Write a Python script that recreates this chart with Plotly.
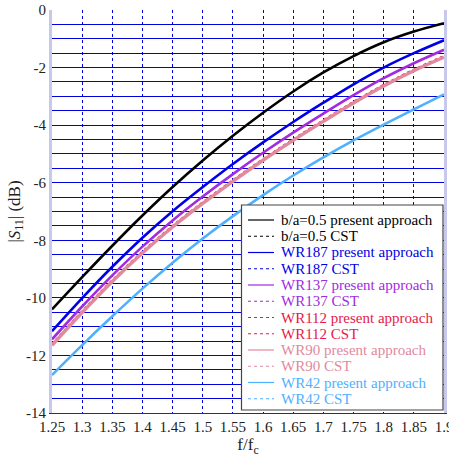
import plotly.graph_objects as go

# ---- data ----
f_ratio = [1.25, 1.30, 1.35, 1.40, 1.45, 1.50, 1.55, 1.60, 1.65, 1.70, 1.75, 1.80, 1.85, 1.90]

ba05_present  = [-10.40, -9.28, -8.19, -7.14, -6.15, -5.23, -4.37, -3.57, -2.83, -2.17, -1.60, -1.12, -0.75, -0.46]
ba05_cst      = [-10.40, -9.28, -8.19, -7.14, -6.15, -5.23, -4.37, -3.57, -2.83, -2.17, -1.60, -1.12, -0.75, -0.46]
wr187_present = [-11.16, -10.01, -8.92, -7.91, -6.99, -6.15, -5.35, -4.60, -3.89, -3.22, -2.58, -2.00, -1.50, -1.05]
wr187_cst     = [-11.16, -10.01, -8.92, -7.91, -6.99, -6.15, -5.35, -4.60, -3.89, -3.22, -2.58, -2.00, -1.50, -1.05]
wr137_present = [-11.44, -10.30, -9.22, -8.22, -7.31, -6.48, -5.70, -4.96, -4.26, -3.60, -2.96, -2.37, -1.85, -1.38]
wr137_cst     = [-11.44, -10.30, -9.22, -8.22, -7.31, -6.48, -5.70, -4.96, -4.26, -3.60, -2.96, -2.37, -1.85, -1.38]
wr112_present = [-11.62, -10.48, -9.40, -8.41, -7.51, -6.69, -5.92, -5.19, -4.50, -3.84, -3.20, -2.61, -2.08, -1.61]
wr112_cst     = [-11.62, -10.48, -9.40, -8.41, -7.51, -6.69, -5.92, -5.19, -4.50, -3.84, -3.20, -2.61, -2.08, -1.61]
wr90_present  = [-11.65, -10.51, -9.43, -8.44, -7.54, -6.72, -5.95, -5.22, -4.53, -3.87, -3.23, -2.64, -2.11, -1.64]
wr90_cst      = [-11.65, -10.51, -9.43, -8.44, -7.54, -6.72, -5.95, -5.22, -4.53, -3.87, -3.23, -2.64, -2.11, -1.64]
wr42_present  = [-12.68, -11.64, -10.64, -9.68, -8.78, -7.94, -7.16, -6.43, -5.75, -5.12, -4.53, -3.98, -3.45, -2.93]
wr42_cst      = [-12.68, -11.64, -10.64, -9.68, -8.78, -7.94, -7.16, -6.43, -5.75, -5.12, -4.53, -3.98, -3.45, -2.93]

x_ticks = [1.25, 1.30, 1.35, 1.40, 1.45, 1.50, 1.55, 1.60, 1.65, 1.70, 1.75, 1.80, 1.85, 1.90]
x_ticktext = ["1.25", "1.3", "1.35", "1.4", "1.45", "1.5", "1.55", "1.6", "1.65", "1.7", "1.75", "1.8", "1.85", "1.9"]
y_ticks = [-14, -12, -10, -8, -6, -4, -2, 0]
y_ticktext = ["-14", "-12", "-10", "-8", "-6", "-4", "-2", "0"]
y_grid = [-14.0, -13.5, -13.0, -12.5, -12.0, -11.5, -11.0, -10.5, -10.0, -9.5, -9.0, -8.5, -8.0, -7.5,
          -7.0, -6.5, -6.0, -5.5, -5.0, -4.5, -4.0, -3.5, -3.0, -2.5, -2.0, -1.5, -1.0, -0.5, 0.0]

labels = ["b/a=0.5 present approach", "b/a=0.5 CST",
          "WR187 present approach", "WR187 CST",
          "WR137 present approach", "WR137 CST",
          "WR112 present approach", "WR112 CST",
          "WR90 present approach", "WR90 CST",
          "WR42 present approach", "WR42 CST"]

# ---- styles ----
C_BLACK = "#000000"
C_187 = "#0000E6"
C_137 = "#A02BE0"
C_112 = "#E6194B"
C_90 = "#E08A9E"
C_42 = "#4FB0FF"

series = [
    (ba05_present, C_BLACK, 2.6, "solid"),
    (ba05_cst, C_BLACK, 1.0, "dot"),
    (wr187_present, C_187, 2.6, "solid"),
    (wr187_cst, C_187, 1.0, "dot"),
    (wr137_present, C_137, 2.6, "solid"),
    (wr137_cst, C_137, 1.0, "dot"),
    (wr112_present, C_112, 2.6, "dot"),
    (wr112_cst, C_112, 1.0, "dot"),
    (wr90_present, C_90, 3.4, "solid"),
    (wr90_cst, C_90, 1.0, "dot"),
    (wr42_present, C_42, 2.6, "solid"),
    (wr42_cst, C_42, 1.0, "dot"),
]

FONT = "Times New Roman, Liberation Serif, DejaVu Serif, serif"
GRID = "#0000D8"

fig = go.Figure()
for (vals, col, w, dash), name in zip(series, labels):
    fig.add_trace(go.Scatter(x=f_ratio, y=vals, mode="lines", name=name,
                             line=dict(color=col, width=w, dash=dash, shape="spline", smoothing=1.0),
                             showlegend=False))

# ---- custom legend (box, samples, texts) ----
W, H = 449, 459
ml, mr, mt, mb = 52, 5, 10, 46
pw, ph = W - ml - mr, H - mt - mb

def px2x(px):
    return (px - ml) / pw

def py2y(py):
    return (H - mb - py) / ph

shapes = [dict(type="rect", xref="paper", yref="paper",
               x0=px2x(241.5), x1=px2x(443), y0=py2y(410), y1=py2y(205),
               line=dict(color="#444444", width=1.2), fillcolor="white", layer="above")]
annotations = []
for i, ((vals, col, w, dash), name) in enumerate(zip(series, labels)):
    py = 220 + 16.25 * i
    shapes.append(dict(type="line", xref="paper", yref="paper",
                       x0=px2x(248), x1=px2x(274), y0=py2y(py), y1=py2y(py),
                       line=dict(color=col, width=1.2, dash=dash), layer="above"))
    annotations.append(dict(xref="paper", yref="paper", x=px2x(279), y=py2y(py),
                            text=name, showarrow=False, xanchor="left", yanchor="middle",
                            font=dict(family=FONT, size=15, color=col)))

fig.update_layout(
    width=W, height=H,
    margin=dict(l=ml, r=mr, t=mt, b=mb),
    paper_bgcolor="white", plot_bgcolor="white",
    font=dict(family=FONT, size=15, color="#222222"),
    shapes=shapes, annotations=annotations,
    showlegend=False,
)
fig.update_xaxes(range=[1.25, 1.9], tickvals=x_ticks, ticktext=x_ticktext,
                 showgrid=True, gridcolor=GRID, griddash="3px,3px", gridwidth=1,
                 minor=dict(tickvals=x_ticks, showgrid=True, gridcolor=GRID, griddash="3px,3px", gridwidth=1),
                 showline=True, linecolor="#303050", linewidth=1, mirror=False,
                 zeroline=False, ticks="", ticklabeloverflow="allow", automargin=False,
                 tickfont=dict(family=FONT, size=15),
                 title=dict(text="f/f<sub>c</sub>", font=dict(family=FONT, size=17), standoff=4))
fig.update_yaxes(range=[-14, 0], tickvals=y_ticks, ticktext=y_ticktext,
                 showgrid=True, gridcolor=GRID, gridwidth=1.2,
                 minor=dict(tickvals=y_grid, showgrid=True, gridcolor=GRID, gridwidth=1.2),
                 showline=True, linecolor="#C8C8EC", linewidth=3, mirror=True,
                 zeroline=False, ticks="", automargin=False,
                 tickfont=dict(family=FONT, size=15),
                 title=dict(text="|<i>S</i><sub>11</sub>| (dB)", font=dict(family=FONT, size=17), standoff=2))

fig.write_html("out.html")
